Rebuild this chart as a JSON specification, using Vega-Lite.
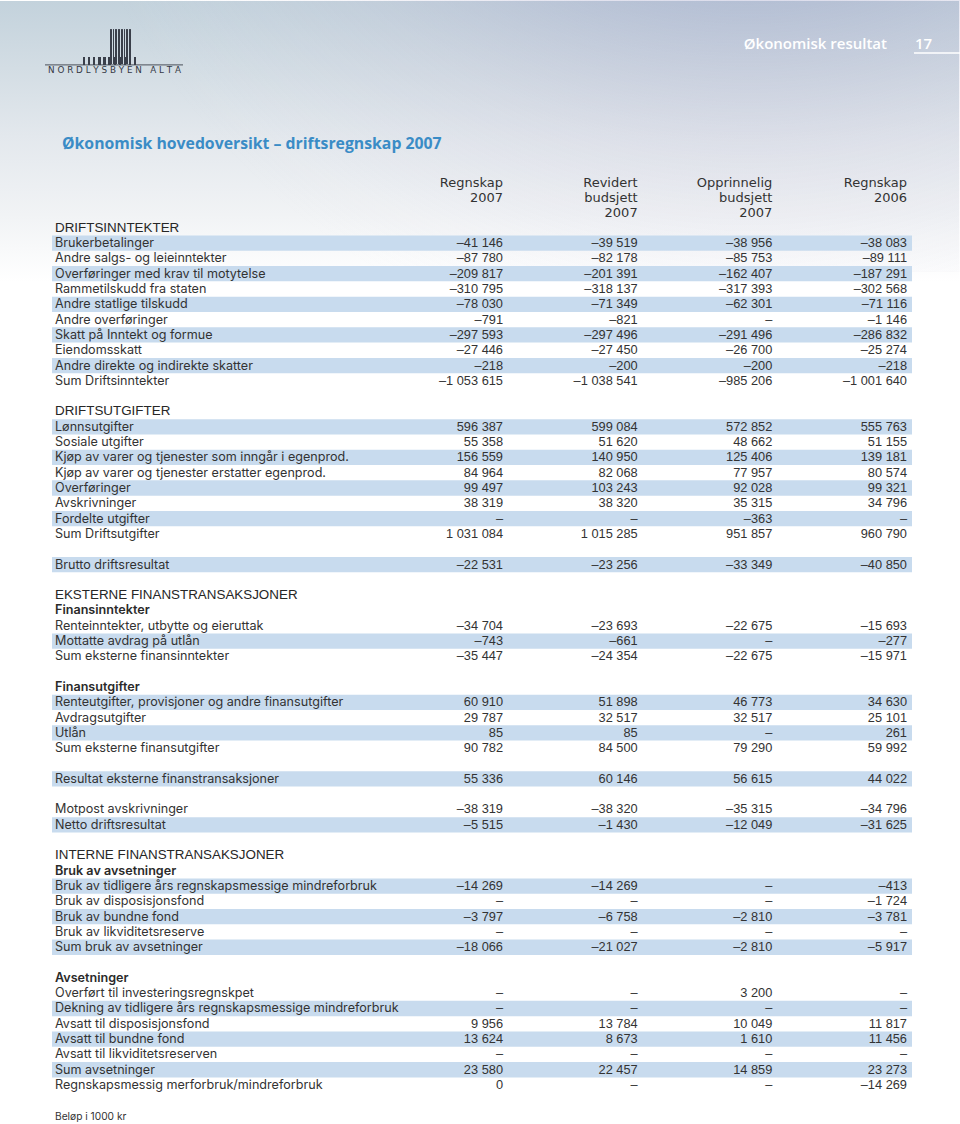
{
  "$schema": "https://vega.github.io/schema/vega-lite/v6.json",
  "width": 960,
  "height": 1124,
  "autosize": {"type": "fit", "contains": "padding"},
  "padding": 0,
  "background": "#ffffff",
  "config": {
    "view": {
      "stroke": null,
      "fill": {
        "gradient": "linear",
        "x1": 0, "y1": 0, "x2": 0, "y2": 1,
        "stops": [
          {"offset": 0, "color": "#c3d2dc"},
          {"offset": 0.06, "color": "#d3dde4"},
          {"offset": 0.12, "color": "#e3e8ed"},
          {"offset": 0.19, "color": "#f1f3f5"},
          {"offset": 0.25, "color": "#ffffff"},
          {"offset": 1, "color": "#ffffff"}
        ]
      }
    },
    "locale": {
      "number": {"decimal": ",", "thousands": " ", "grouping": [3], "currency": ["kr ", ""], "minus": "–"}
    },
    "text": {"font": "Inter"}
  },
  "datasets": {
    "rows": [
      {"row": 0, "label": "DRIFTSINNTEKTER", "kind": "head"},
      {"row": 1, "label": "Brukerbetalinger", "kind": "item", "band": true, "R2007": -41146, "RB2007": -39519, "OB2007": -38956, "R2006": -38083},
      {"row": 2, "label": "Andre salgs- og leieinntekter", "kind": "item", "R2007": -87780, "RB2007": -82178, "OB2007": -85753, "R2006": -89111},
      {"row": 3, "label": "Overføringer med krav til motytelse", "kind": "item", "band": true, "R2007": -209817, "RB2007": -201391, "OB2007": -162407, "R2006": -187291},
      {"row": 4, "label": "Rammetilskudd fra staten", "kind": "item", "R2007": -310795, "RB2007": -318137, "OB2007": -317393, "R2006": -302568},
      {"row": 5, "label": "Andre statlige tilskudd", "kind": "item", "band": true, "R2007": -78030, "RB2007": -71349, "OB2007": -62301, "R2006": -71116},
      {"row": 6, "label": "Andre overføringer", "kind": "item", "R2007": -791, "RB2007": -821, "OB2007": null, "R2006": -1146},
      {"row": 7, "label": "Skatt på Inntekt og formue", "kind": "item", "band": true, "R2007": -297593, "RB2007": -297496, "OB2007": -291496, "R2006": -286832},
      {"row": 8, "label": "Eiendomsskatt", "kind": "item", "R2007": -27446, "RB2007": -27450, "OB2007": -26700, "R2006": -25274},
      {"row": 9, "label": "Andre direkte og indirekte skatter", "kind": "item", "band": true, "R2007": -218, "RB2007": -200, "OB2007": -200, "R2006": -218},
      {"row": 10, "label": "Sum Driftsinntekter", "kind": "item", "R2007": -1053615, "RB2007": -1038541, "OB2007": -985206, "R2006": -1001640},
      {"row": 12, "label": "DRIFTSUTGIFTER", "kind": "head"},
      {"row": 13, "label": "Lønnsutgifter", "kind": "item", "band": true, "R2007": 596387, "RB2007": 599084, "OB2007": 572852, "R2006": 555763},
      {"row": 14, "label": "Sosiale utgifter", "kind": "item", "R2007": 55358, "RB2007": 51620, "OB2007": 48662, "R2006": 51155},
      {"row": 15, "label": "Kjøp av varer og tjenester som inngår i egenprod.", "kind": "item", "band": true, "R2007": 156559, "RB2007": 140950, "OB2007": 125406, "R2006": 139181},
      {"row": 16, "label": "Kjøp av varer og tjenester erstatter egenprod.", "kind": "item", "R2007": 84964, "RB2007": 82068, "OB2007": 77957, "R2006": 80574},
      {"row": 17, "label": "Overføringer", "kind": "item", "band": true, "R2007": 99497, "RB2007": 103243, "OB2007": 92028, "R2006": 99321},
      {"row": 18, "label": "Avskrivninger", "kind": "item", "R2007": 38319, "RB2007": 38320, "OB2007": 35315, "R2006": 34796},
      {"row": 19, "label": "Fordelte utgifter", "kind": "item", "band": true, "R2007": null, "RB2007": null, "OB2007": -363, "R2006": null},
      {"row": 20, "label": "Sum Driftsutgifter", "kind": "item", "R2007": 1031084, "RB2007": 1015285, "OB2007": 951857, "R2006": 960790},
      {"row": 22, "label": "Brutto driftsresultat", "kind": "item", "band": true, "R2007": -22531, "RB2007": -23256, "OB2007": -33349, "R2006": -40850},
      {"row": 24, "label": "EKSTERNE FINANSTRANSAKSJONER", "kind": "head"},
      {"row": 25, "label": "Finansinntekter", "kind": "sub"},
      {"row": 26, "label": "Renteinntekter, utbytte og eieruttak", "kind": "item", "R2007": -34704, "RB2007": -23693, "OB2007": -22675, "R2006": -15693},
      {"row": 27, "label": "Mottatte avdrag på utlån", "kind": "item", "band": true, "R2007": -743, "RB2007": -661, "OB2007": null, "R2006": -277},
      {"row": 28, "label": "Sum eksterne finansinntekter", "kind": "item", "R2007": -35447, "RB2007": -24354, "OB2007": -22675, "R2006": -15971},
      {"row": 30, "label": "Finansutgifter", "kind": "sub"},
      {"row": 31, "label": "Renteutgifter, provisjoner og andre finansutgifter", "kind": "item", "band": true, "R2007": 60910, "RB2007": 51898, "OB2007": 46773, "R2006": 34630},
      {"row": 32, "label": "Avdragsutgifter", "kind": "item", "R2007": 29787, "RB2007": 32517, "OB2007": 32517, "R2006": 25101},
      {"row": 33, "label": "Utlån", "kind": "item", "band": true, "R2007": 85, "RB2007": 85, "OB2007": null, "R2006": 261},
      {"row": 34, "label": "Sum eksterne finansutgifter", "kind": "item", "R2007": 90782, "RB2007": 84500, "OB2007": 79290, "R2006": 59992},
      {"row": 36, "label": "Resultat eksterne finanstransaksjoner", "kind": "item", "band": true, "R2007": 55336, "RB2007": 60146, "OB2007": 56615, "R2006": 44022},
      {"row": 38, "label": "Motpost avskrivninger", "kind": "item", "R2007": -38319, "RB2007": -38320, "OB2007": -35315, "R2006": -34796},
      {"row": 39, "label": "Netto driftsresultat", "kind": "item", "band": true, "R2007": -5515, "RB2007": -1430, "OB2007": -12049, "R2006": -31625},
      {"row": 41, "label": "INTERNE FINANSTRANSAKSJONER", "kind": "head"},
      {"row": 42, "label": "Bruk av avsetninger", "kind": "sub"},
      {"row": 43, "label": "Bruk av tidligere års regnskapsmessige mindreforbruk", "kind": "item", "band": true, "R2007": -14269, "RB2007": -14269, "OB2007": null, "R2006": -413},
      {"row": 44, "label": "Bruk av disposisjonsfond", "kind": "item", "R2007": null, "RB2007": null, "OB2007": null, "R2006": -1724},
      {"row": 45, "label": "Bruk av bundne fond", "kind": "item", "band": true, "R2007": -3797, "RB2007": -6758, "OB2007": -2810, "R2006": -3781},
      {"row": 46, "label": "Bruk av likviditetsreserve", "kind": "item", "R2007": null, "RB2007": null, "OB2007": null, "R2006": null},
      {"row": 47, "label": "Sum bruk av avsetninger", "kind": "item", "band": true, "R2007": -18066, "RB2007": -21027, "OB2007": -2810, "R2006": -5917},
      {"row": 49, "label": "Avsetninger", "kind": "sub"},
      {"row": 50, "label": "Overført til investeringsregnskpet", "kind": "item", "R2007": null, "RB2007": null, "OB2007": 3200, "R2006": null},
      {"row": 51, "label": "Dekning av tidligere års regnskapsmessige mindreforbruk", "kind": "item", "band": true, "R2007": null, "RB2007": null, "OB2007": null, "R2006": null},
      {"row": 52, "label": "Avsatt til disposisjonsfond", "kind": "item", "R2007": 9956, "RB2007": 13784, "OB2007": 10049, "R2006": 11817},
      {"row": 53, "label": "Avsatt til bundne fond", "kind": "item", "band": true, "R2007": 13624, "RB2007": 8673, "OB2007": 1610, "R2006": 11456},
      {"row": 54, "label": "Avsatt til likviditetsreserven", "kind": "item", "R2007": null, "RB2007": null, "OB2007": null, "R2006": null},
      {"row": 55, "label": "Sum avsetninger", "kind": "item", "band": true, "R2007": 23580, "RB2007": 22457, "OB2007": 14859, "R2006": 23273},
      {"row": 56, "label": "Regnskapsmessig merforbruk/mindreforbruk", "kind": "item", "R2007": 0, "RB2007": null, "OB2007": null, "R2006": -14269}
    ],
    "headers": [
      {"row": -3, "col": "R2007", "text": "Regnskap"},
      {"row": -2, "col": "R2007", "text": "2007"},
      {"row": -3, "col": "RB2007", "text": "Revidert"},
      {"row": -2, "col": "RB2007", "text": "budsjett"},
      {"row": -1, "col": "RB2007", "text": "2007"},
      {"row": -3, "col": "OB2007", "text": "Opprinnelig"},
      {"row": -2, "col": "OB2007", "text": "budsjett"},
      {"row": -1, "col": "OB2007", "text": "2007"},
      {"row": -3, "col": "R2006", "text": "Regnskap"},
      {"row": -2, "col": "R2006", "text": "2006"}
    ]
  },
  "encoding": {
    "y": {
      "field": "row",
      "type": "ordinal",
      "axis": null,
      "scale": {
        "domain": [-14, -13, -12, -11, -10, -9, -8, -7, -6, -5, -4, -3, -2, -1, 0, 1, 2, 3, 4, 5, 6, 7, 8, 9, 10, 11, 12, 13, 14, 15, 16, 17, 18, 19, 20, 21, 22, 23, 24, 25, 26, 27, 28, 29, 30, 31, 32, 33, 34, 35, 36, 37, 38, 39, 40, 41, 42, 43, 44, 45, 46, 47, 48, 49, 50, 51, 52, 53, 54, 55, 56, 57, 58],
        "paddingInner": 0,
        "paddingOuter": 0.18,
        "align": 0.874,
        "round": false
      }
    }
  },
  "layer": [
    {
      "data": {"values": [{"row": -6}]},
      "mark": {
        "type": "rect", "height": 272,
        "fill": {
          "gradient": "radial",
          "x1": 0.78, "y1": 0, "r1": 0,
          "x2": 0.78, "y2": 0, "r2": 0.75,
          "stops": [
            {"offset": 0, "color": "rgba(105,122,176,0.75)"},
            {"offset": 0.35, "color": "rgba(135,142,190,0.45)"},
            {"offset": 0.7, "color": "rgba(185,180,210,0.15)"},
            {"offset": 1, "color": "rgba(220,220,235,0)"}
          ]
        }
      },
      "encoding": {
        "x": {"datum": 0, "type": "quantitative", "scale": {"domain": [0, 1], "range": [0, 960]}, "axis": null},
        "x2": {"datum": 1}
      }
    },
    {
      "data": {"name": "rows"},
      "transform": [{"filter": "datum.band === true"}],
      "mark": {"type": "rect", "fill": "#c8dbee"},
      "encoding": {
        "x": {"datum": 0, "type": "quantitative", "scale": {"domain": [0, 1], "range": [52, 912]}, "axis": null},
        "x2": {"datum": 1}
      }
    },
    {
      "data": {"name": "rows"},
      "transform": [{"filter": "datum.kind === 'item'"}],
      "mark": {"type": "text", "align": "left", "baseline": "middle", "fontSize": 12.6, "color": "#333333"},
      "encoding": {
        "x": {"datum": 0, "type": "quantitative", "scale": {"domain": [0, 1], "range": [55, 900]}, "axis": null},
        "text": {"field": "label"}
      }
    },
    {
      "data": {"name": "rows"},
      "transform": [{"filter": "datum.kind === 'head'"}],
      "mark": {"type": "text", "align": "left", "baseline": "middle", "fontSize": 13.4, "font": "Liberation Sans", "color": "#262626"},
      "encoding": {
        "x": {"datum": 0, "type": "quantitative", "scale": {"domain": [0, 1], "range": [55, 900]}, "axis": null},
        "text": {"field": "label"}
      }
    },
    {
      "data": {"name": "rows"},
      "transform": [{"filter": "datum.kind === 'sub'"}],
      "mark": {"type": "text", "align": "left", "baseline": "middle", "fontSize": 12.6, "fontWeight": 600, "color": "#2a2a2a"},
      "encoding": {
        "x": {"datum": 0, "type": "quantitative", "scale": {"domain": [0, 1], "range": [55, 900]}, "axis": null},
        "text": {"field": "label"}
      }
    },
    {
      "data": {"name": "rows"},
      "transform": [
        {"filter": "datum.kind === 'item'"},
        {"fold": ["R2007", "RB2007", "OB2007", "R2006"], "as": ["col", "v"]}
      ],
      "mark": {"type": "text", "align": "right", "baseline": "middle", "fontSize": 12.8, "font": "Liberation Sans", "color": "#333333"},
      "encoding": {
        "x": {"field": "col", "type": "nominal", "scale": {"type": "point", "domain": ["R2007", "RB2007", "OB2007", "R2006"], "range": [503, 907], "padding": 0}, "axis": null},
        "text": {"condition": {"test": "datum.v == null", "value": "–"}, "field": "v", "type": "quantitative", "format": ",d"}
      }
    },
    {
      "data": {"name": "headers"},
      "mark": {"type": "text", "align": "right", "baseline": "middle", "fontSize": 13, "font": "DejaVu Sans", "dy": 1, "color": "#333333"},
      "encoding": {
        "x": {"field": "col", "type": "nominal", "scale": {"type": "point", "domain": ["R2007", "RB2007", "OB2007", "R2006"], "range": [503, 907], "padding": 0}, "axis": null},
        "text": {"field": "text"}
      }
    },
    {
      "data": {"values": [{"row": -5, "text": "Økonomisk hovedoversikt – driftsregnskap 2007"}]},
      "mark": {"type": "text", "align": "left", "baseline": "middle", "fontSize": 15.8, "fontWeight": "bold", "font": "Open Sans", "dy": -7, "color": "#3a8cc6"},
      "encoding": {
        "x": {"datum": 0, "type": "quantitative", "scale": {"domain": [0, 1], "range": [62, 900]}, "axis": null},
        "text": {"field": "text"}
      }
    },
    {
      "data": {"values": [{"row": 58, "text": "Beløp i 1000 kr"}]},
      "mark": {"type": "text", "align": "left", "baseline": "middle", "fontSize": 10.2, "dy": 1, "color": "#333333"},
      "encoding": {
        "x": {"datum": 0, "type": "quantitative", "scale": {"domain": [0, 1], "range": [55, 900]}, "axis": null},
        "text": {"field": "text"}
      }
    },
    {
      "data": {"values": [{"row": -12, "text": "Økonomisk resultat"}]},
      "mark": {"type": "text", "align": "right", "baseline": "middle", "fontSize": 15, "fontWeight": 600, "font": "Open Sans", "color": "#ffffff"},
      "encoding": {
        "x": {"datum": 1, "type": "quantitative", "scale": {"domain": [0, 1], "range": [0, 887]}, "axis": null},
        "text": {"field": "text"}
      }
    },
    {
      "data": {"values": [{"row": -12, "text": "17"}]},
      "mark": {"type": "text", "align": "left", "baseline": "middle", "fontSize": 15, "fontWeight": 600, "font": "Open Sans", "color": "#ffffff"},
      "encoding": {
        "x": {"datum": 0, "type": "quantitative", "scale": {"domain": [0, 1], "range": [915, 960]}, "axis": null},
        "text": {"field": "text"}
      }
    },
    {
      "data": {"values": [{"row": -12}]},
      "mark": {"type": "rule", "color": "#ffffff", "strokeWidth": 1.5, "yOffset": 9},
      "encoding": {
        "x": {"datum": 0, "type": "quantitative", "scale": {"domain": [0, 1], "range": [914, 960]}, "axis": null},
        "x2": {"datum": 1}
      }
    },
    {
      "data": {"values": [{"row": -11}]},
      "mark": {"type": "rule", "color": "#4a4f5a", "strokeWidth": 1, "yOffset": 5.5},
      "encoding": {
        "x": {"datum": 0, "type": "quantitative", "scale": {"domain": [0, 1], "range": [45, 183]}, "axis": null},
        "x2": {"datum": 1}
      }
    },
    {
      "data": {"values": [{"row": -10, "text": "N O R D L Y S B Y E N  \u00a0 A L T A"}]},
      "mark": {"type": "text", "align": "center", "baseline": "middle", "fontSize": 8.8, "font": "DejaVu Sans", "dy": -4.5, "color": "#343944"},
      "encoding": {
        "x": {"datum": 0, "type": "quantitative", "scale": {"domain": [0, 1], "range": [114.5, 200]}, "axis": null},
        "text": {"field": "text"}
      }
    },
    {
      "data": {"values": [{"row": -12}]},
      "mark": {
        "type": "rect", "height": 35, "yOffset": 2.5,
        "fill": {
          "gradient": "linear", "x1": 0, "y1": 0, "x2": 1, "y2": 0,
          "stops": [
            {"offset": 0, "color": "#3a3f4a"}, {"offset": 0.07, "color": "#3a3f4a"}, {"offset": 0.07, "color": "rgba(255,255,255,0)"}, {"offset": 0.125, "color": "rgba(255,255,255,0)"},
            {"offset": 0.125, "color": "#3a3f4a"}, {"offset": 0.195, "color": "#3a3f4a"}, {"offset": 0.195, "color": "rgba(255,255,255,0)"}, {"offset": 0.25, "color": "rgba(255,255,255,0)"},
            {"offset": 0.25, "color": "#3a3f4a"}, {"offset": 0.32, "color": "#3a3f4a"}, {"offset": 0.32, "color": "rgba(255,255,255,0)"}, {"offset": 0.375, "color": "rgba(255,255,255,0)"},
            {"offset": 0.375, "color": "#3a3f4a"}, {"offset": 0.445, "color": "#3a3f4a"}, {"offset": 0.445, "color": "rgba(255,255,255,0)"}, {"offset": 0.5, "color": "rgba(255,255,255,0)"},
            {"offset": 0.5, "color": "#3a3f4a"}, {"offset": 0.57, "color": "#3a3f4a"}, {"offset": 0.57, "color": "rgba(255,255,255,0)"}, {"offset": 0.625, "color": "rgba(255,255,255,0)"},
            {"offset": 0.625, "color": "#3a3f4a"}, {"offset": 0.695, "color": "#3a3f4a"}, {"offset": 0.695, "color": "rgba(255,255,255,0)"}, {"offset": 0.75, "color": "rgba(255,255,255,0)"},
            {"offset": 0.75, "color": "#3a3f4a"}, {"offset": 0.82, "color": "#3a3f4a"}, {"offset": 0.82, "color": "rgba(255,255,255,0)"}, {"offset": 0.875, "color": "rgba(255,255,255,0)"},
            {"offset": 0.875, "color": "#3a3f4a"}, {"offset": 0.945, "color": "#3a3f4a"}, {"offset": 0.945, "color": "rgba(255,255,255,0)"}, {"offset": 1, "color": "rgba(255,255,255,0)"}
          ]
        }
      },
      "encoding": {
        "x": {"datum": 0, "type": "quantitative", "scale": {"domain": [0, 1], "range": [110, 132]}, "axis": null},
        "x2": {"datum": 1}
      }
    },
    {
      "data": {"values": [{"row": -11}]},
      "mark": {
        "type": "rect", "height": 8, "yOffset": 1.5,
        "fill": {
          "gradient": "linear", "x1": 0, "y1": 0, "x2": 1, "y2": 0,
          "stops": [
            {"offset": 0, "color": "#3a3f4a"}, {"offset": 0.04, "color": "#3a3f4a"}, {"offset": 0.04, "color": "rgba(255,255,255,0)"}, {"offset": 0.091, "color": "rgba(255,255,255,0)"},
            {"offset": 0.091, "color": "#3a3f4a"}, {"offset": 0.131, "color": "#3a3f4a"}, {"offset": 0.131, "color": "rgba(255,255,255,0)"}, {"offset": 0.182, "color": "rgba(255,255,255,0)"},
            {"offset": 0.182, "color": "#3a3f4a"}, {"offset": 0.222, "color": "#3a3f4a"}, {"offset": 0.222, "color": "rgba(255,255,255,0)"}, {"offset": 0.273, "color": "rgba(255,255,255,0)"},
            {"offset": 0.273, "color": "#3a3f4a"}, {"offset": 0.313, "color": "#3a3f4a"}, {"offset": 0.313, "color": "rgba(255,255,255,0)"}, {"offset": 0.364, "color": "rgba(255,255,255,0)"},
            {"offset": 0.364, "color": "#3a3f4a"}, {"offset": 0.404, "color": "#3a3f4a"}, {"offset": 0.404, "color": "rgba(255,255,255,0)"}, {"offset": 0.455, "color": "rgba(255,255,255,0)"},
            {"offset": 0.455, "color": "#3a3f4a"}, {"offset": 0.495, "color": "#3a3f4a"}, {"offset": 0.495, "color": "rgba(255,255,255,0)"}, {"offset": 0.545, "color": "rgba(255,255,255,0)"},
            {"offset": 0.545, "color": "#3a3f4a"}, {"offset": 0.585, "color": "#3a3f4a"}, {"offset": 0.585, "color": "rgba(255,255,255,0)"}, {"offset": 0.636, "color": "rgba(255,255,255,0)"},
            {"offset": 0.636, "color": "#3a3f4a"}, {"offset": 0.676, "color": "#3a3f4a"}, {"offset": 0.676, "color": "rgba(255,255,255,0)"}, {"offset": 0.727, "color": "rgba(255,255,255,0)"},
            {"offset": 0.727, "color": "#3a3f4a"}, {"offset": 0.767, "color": "#3a3f4a"}, {"offset": 0.767, "color": "rgba(255,255,255,0)"}, {"offset": 0.818, "color": "rgba(255,255,255,0)"},
            {"offset": 0.818, "color": "#3a3f4a"}, {"offset": 0.858, "color": "#3a3f4a"}, {"offset": 0.858, "color": "rgba(255,255,255,0)"}, {"offset": 0.909, "color": "rgba(255,255,255,0)"},
            {"offset": 0.909, "color": "#3a3f4a"}, {"offset": 0.949, "color": "#3a3f4a"}, {"offset": 0.949, "color": "rgba(255,255,255,0)"}, {"offset": 1, "color": "rgba(255,255,255,0)"}
          ]
        }
      },
      "encoding": {
        "x": {"datum": 0, "type": "quantitative", "scale": {"domain": [0, 1], "range": [83, 139]}, "axis": null},
        "x2": {"datum": 1}
      }
    }
  ],
  "resolve": {"scale": {"x": "independent"}}
}
